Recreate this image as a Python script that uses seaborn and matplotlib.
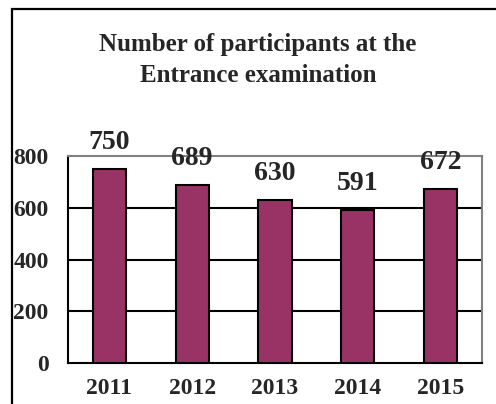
import numpy as np
import matplotlib.pyplot as plt
import matplotlib.patches as patches
import seaborn as sns
import pandas as pd

# data
years = ["2011", "2012", "2013", "2014", "2015"]
participants = [750, 689, 630, 591, 672]
y_ticks = [0, 200, 400, 600, 800]

df = pd.DataFrame({"Year": years, "Participants": participants})

sns.set_style("white")
plt.rcParams['font.family'] = ['Liberation Serif', 'DejaVu Serif']
plt.rcParams['font.weight'] = 'bold'

fig = plt.figure(figsize=(4.96, 4.04), dpi=100)
ax = fig.add_axes([68 / 496, 1 - 363 / 404, (482 - 68) / 496, (363 - 156) / 404])

sns.barplot(x="Year", y="Participants", data=df, color="#993366", saturation=1,
            width=0.4, edgecolor="black", linewidth=1.5, ax=ax, zorder=3)

# value labels
ax.bar_label(ax.containers[0], fontsize=20, fontweight='bold', padding=10)

# axes
ax.set_ylim(0, 800)
ax.set_xlim(-0.5, 4.5)
ax.set_yticks(y_ticks)
ax.set_yticklabels([str(v) for v in y_ticks], fontsize=17, fontweight='bold')
for v in y_ticks[1:-1]:
    ax.axhline(v, color="black", lw=1.5, zorder=1)

ax.set_xticks(np.arange(-0.5, 5, 1))
ax.set_xticklabels([])
ax.set_xticks(range(len(years)), minor=True)
ax.set_xticklabels(years, minor=True, fontsize=17, fontweight='bold')
ax.tick_params(axis='x', which='major', length=6, width=1.5, direction='out', color='black')
ax.tick_params(axis='x', which='minor', length=0, pad=11)
ax.tick_params(axis='y', length=6, width=1.5, direction='out', pad=8)
ax.set_xlabel("")
ax.set_ylabel("")

ax.spines['left'].set_color('black')
ax.spines['bottom'].set_color('black')
ax.spines['left'].set_linewidth(1.5)
ax.spines['bottom'].set_linewidth(1.5)
ax.spines['top'].set_color('#808080')
ax.spines['right'].set_color('#808080')
ax.spines['top'].set_linewidth(1.5)
ax.spines['right'].set_linewidth(1.5)

# title
fig.text(258 / 496, 1 - 60 / 404, "Number of participants at the\nEntrance examination",
         ha='center', va='center', fontsize=18, fontweight='bold', linespacing=1.5)

# outer frame (right and bottom edges fall outside the picture)
frame = patches.Rectangle((12 / 496, -0.2), 1.2, 0.2 + (1 - 9 / 404), transform=fig.transFigure,
                          fill=False, edgecolor='black', lw=1.6, clip_on=False)
fig.patches.append(frame)

plt.savefig("out.png", dpi=100)
